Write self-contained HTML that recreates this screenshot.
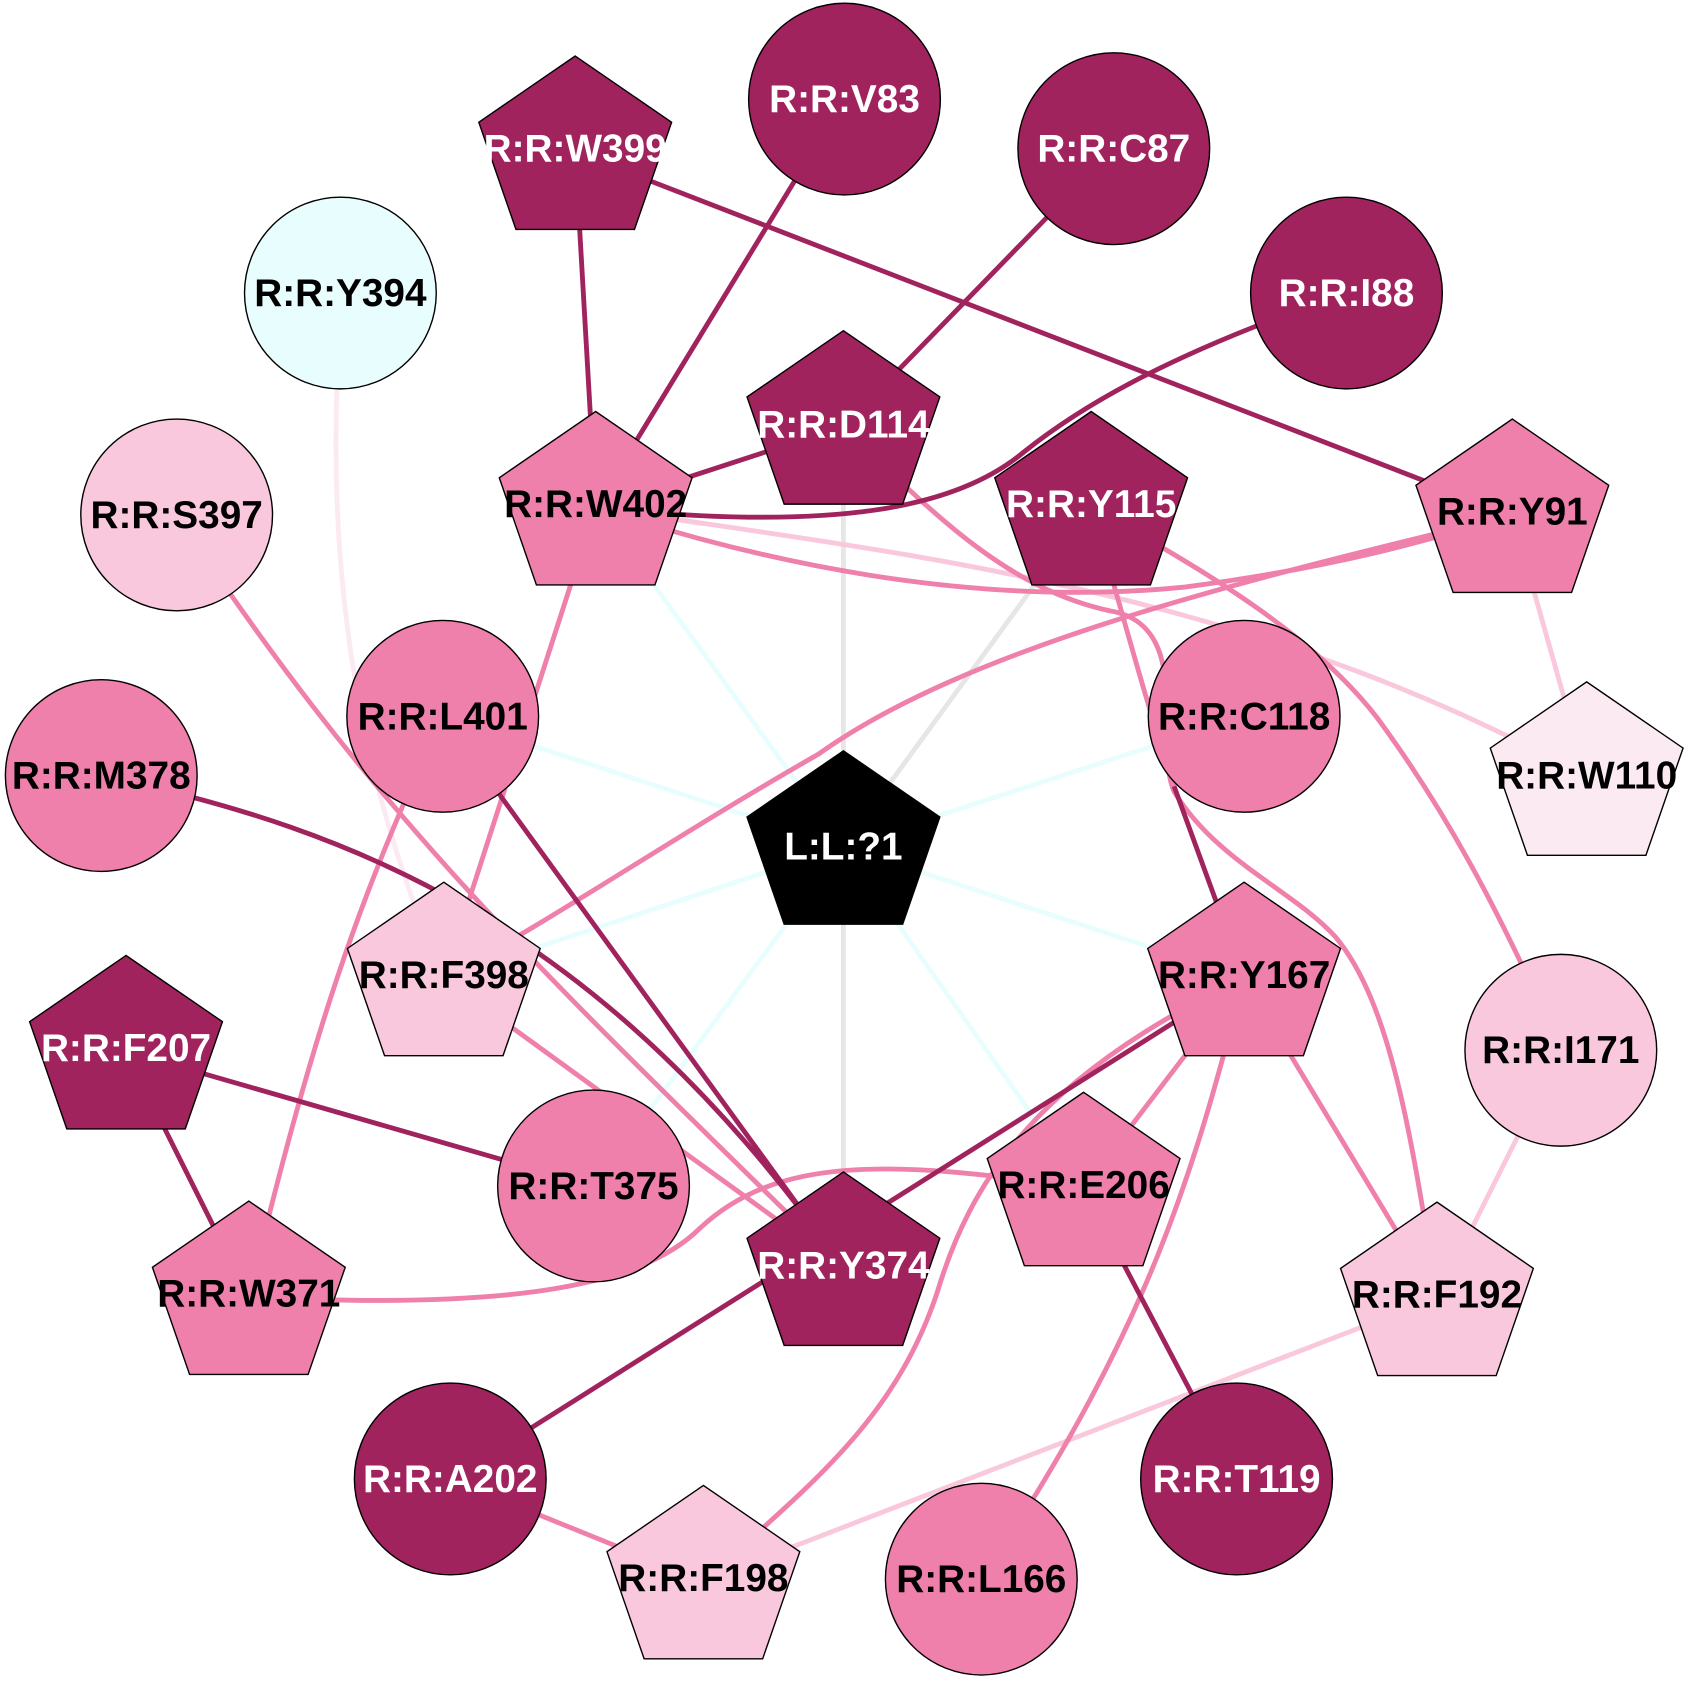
<!DOCTYPE html>
<html><head><meta charset="utf-8"><style>html,body{margin:0;padding:0;background:#fff}svg{display:block}</style></head>
<body>
<svg width="1689" height="1683" viewBox="0 0 1568 1562.4" xmlns="http://www.w3.org/2000/svg">
<defs><polygon id="p" points="0,-89 89.5,-27.5 55,72 -55,72 -89.5,-27.5" stroke="#000" stroke-width="1.3"/></defs>
<g fill="none" stroke-width="4.5">
<!-- cyan & gray -->
<g stroke="#E8FEFE">
<line x1="605" y1="540" x2="783" y2="786"/>
<line x1="411" y1="665" x2="783" y2="786"/>
<line x1="1155" y1="665" x2="783" y2="786"/>
<line x1="412" y1="908" x2="783" y2="786"/>
<line x1="551" y1="1101" x2="783" y2="786"/>
<line x1="1006" y1="1103" x2="783" y2="786"/>
<line x1="1155" y1="908" x2="783" y2="786"/>
</g>
<g stroke="#E6E6E6">
<line x1="783" y1="396" x2="783" y2="1177"/>
<line x1="1013" y1="471" x2="783" y2="786"/>
</g>
<path stroke="#FBEAF2" d="M316,300 C300,520 330,720 412,908"/>
<!-- light pink -->
<g stroke="#F9C8DC">
<path d="M553,471 C800,510 1150,540 1473,722"/>
<line x1="1404" y1="478" x2="1473" y2="722"/>
<line x1="1449" y1="975" x2="1334" y2="1205"/>
<line x1="1334" y1="1205" x2="653" y2="1468"/>
</g>
<!-- pink -->
<g stroke="#EF7FAB">
<path d="M553,471 C700,520 900,565 1100,545 C1250,525 1330,500 1404,478"/>
<path d="M1404,478 C1150,540 900,600 760,700 C620,780 520,850 412,908"/>
<path d="M783,396 C860,470 930,545 1030,567 C1110,580 1070,690 1090,735 C1130,800 1200,826 1240,870 C1290,930 1310,1050 1334,1205"/>
<path d="M1013,471 C1120,530 1220,590 1279,667 C1340,750 1390,840 1449,975"/>
<path d="M1013,471 C1040,560 1060,640 1090,730"/>
<line x1="553" y1="471" x2="412" y2="908"/>
<path d="M164,478 C350,760 500,900 783,1177"/>
<path d="M411,665 C330,840 290,960 231,1204"/>
<line x1="412" y1="908" x2="783" y2="1177"/>
<path d="M231,1204 C450,1215 590,1200 650,1140 C720,1075 820,1075 1006,1103"/>
<path d="M1155,908 C960,1000 900,1100 870,1200 C830,1320 750,1380 653,1468"/>
<line x1="1155" y1="908" x2="1006" y2="1103"/>
<path d="M1155,908 C1110,1080 1070,1230 911,1466"/>
<line x1="1155" y1="908" x2="1334" y2="1205"/>
<line x1="418" y1="1373" x2="653" y2="1468"/>
</g>
<!-- dark -->
<g stroke="#A0235E">
<line x1="534" y1="141" x2="553" y2="471"/>
<line x1="534" y1="141" x2="1404" y2="478"/>
<line x1="784" y1="92" x2="553" y2="471"/>
<line x1="1034" y1="138" x2="783" y2="396"/>
<path d="M1250,272 C1080,330 1000,380 950,420 C890,470 780,495 553,471"/>
<line x1="783" y1="396" x2="553" y2="471"/>
<line x1="1090" y1="730" x2="1155" y2="908"/>
<path d="M94,720 C330,770 560,860 783,1177"/>
<line x1="411" y1="665" x2="783" y2="1177"/>
<line x1="117" y1="976" x2="551" y2="1101"/>
<line x1="117" y1="976" x2="231" y2="1204"/>
<line x1="1155" y1="908" x2="418" y2="1373"/>
<line x1="1006" y1="1103" x2="1148" y2="1373"/>
</g>
</g>
<!-- nodes -->
<g stroke="#000" stroke-width="1.3">
<circle cx="784" cy="92" r="89" fill="#A0235E"/>
<circle cx="1034" cy="138" r="89" fill="#A0235E"/>
<circle cx="1250" cy="272" r="89" fill="#A0235E"/>
<circle cx="316" cy="272" r="89" fill="#E8FEFE"/>
<circle cx="164" cy="478" r="89" fill="#F9C8DC"/>
<circle cx="411" cy="665" r="89" fill="#EF7FAB"/>
<circle cx="1155" cy="665" r="89" fill="#EF7FAB"/>
<circle cx="94" cy="720" r="89" fill="#EF7FAB"/>
<circle cx="1449" cy="975" r="89" fill="#F9C8DC"/>
<circle cx="551" cy="1101" r="89" fill="#EF7FAB"/>
<circle cx="418" cy="1373" r="89" fill="#A0235E"/>
<circle cx="1148" cy="1373" r="89" fill="#A0235E"/>
<circle cx="911" cy="1466" r="89" fill="#EF7FAB"/>
</g>
<use href="#p" x="534" y="141" fill="#A0235E"/>
<use href="#p" x="783" y="396" fill="#A0235E"/>
<use href="#p" x="553" y="471" fill="#EF7FAB"/>
<use href="#p" x="1013" y="471" fill="#A0235E"/>
<use href="#p" x="1404" y="478" fill="#EF7FAB"/>
<use href="#p" x="1473" y="722" fill="#FBEAF2"/>
<use href="#p" x="783" y="786" fill="#000"/>
<use href="#p" x="412" y="908" fill="#F9C8DC"/>
<use href="#p" x="1155" y="908" fill="#EF7FAB"/>
<use href="#p" x="117" y="976" fill="#A0235E"/>
<use href="#p" x="1006" y="1103" fill="#EF7FAB"/>
<use href="#p" x="783" y="1177" fill="#A0235E"/>
<use href="#p" x="231" y="1204" fill="#EF7FAB"/>
<use href="#p" x="1334" y="1205" fill="#F9C8DC"/>
<use href="#p" x="653" y="1468" fill="#F9C8DC"/>
<g font-family="'Liberation Sans', Arial, sans-serif" font-weight="bold" font-size="36" text-anchor="middle">
<g fill="#fff">
<text x="784" y="104">R:R:V83</text>
<text x="1034" y="150">R:R:C87</text>
<text x="1250" y="284">R:R:I88</text>
<text x="418" y="1385">R:R:A202</text>
<text x="1148" y="1385">R:R:T119</text>
<text x="534" y="150">R:R:W399</text>
<text x="783" y="406">R:R:D114</text>
<text x="1013" y="480">R:R:Y115</text>
<text x="783" y="798">L:L:?1</text>
<text x="117" y="985">R:R:F207</text>
<text x="783" y="1187">R:R:Y374</text>
</g>
<g fill="#000">
<text x="316" y="284">R:R:Y394</text>
<text x="164" y="490">R:R:S397</text>
<text x="411" y="677">R:R:L401</text>
<text x="1155" y="677">R:R:C118</text>
<text x="94" y="732">R:R:M378</text>
<text x="1449" y="987">R:R:I171</text>
<text x="551" y="1113">R:R:T375</text>
<text x="911" y="1478">R:R:L166</text>
<text x="553" y="480">R:R:W402</text>
<text x="1404" y="487">R:R:Y91</text>
<text x="1473" y="732">R:R:W110</text>
<text x="412" y="917">R:R:F398</text>
<text x="1155" y="917">R:R:Y167</text>
<text x="1006" y="1112">R:R:E206</text>
<text x="231" y="1213">R:R:W371</text>
<text x="1334" y="1214">R:R:F192</text>
<text x="653" y="1477">R:R:F198</text>
</g>
</g>
</svg>
</body></html>
